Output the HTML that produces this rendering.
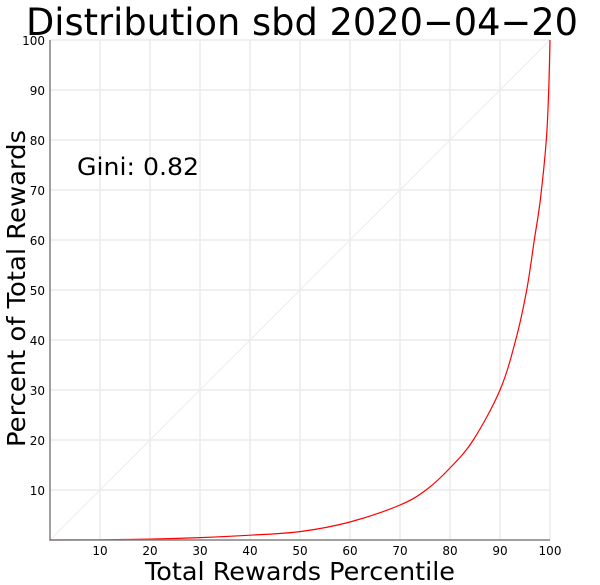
<!DOCTYPE html>
<html><head><meta charset="utf-8"><style>
html,body{margin:0;padding:0;background:#fff;}
svg{display:block;}
text{font-family:"DejaVu Sans","Liberation Sans",sans-serif;fill:#000;}
</style></head><body>
<svg width="600" height="585" viewBox="0 0 600 585" xmlns="http://www.w3.org/2000/svg">
<rect width="600" height="585" fill="#fff"/>
<g stroke="#ebebeb" stroke-width="1.5">
<line x1="100" y1="40" x2="100" y2="540"/><line x1="150" y1="40" x2="150" y2="540"/><line x1="200" y1="40" x2="200" y2="540"/><line x1="250" y1="40" x2="250" y2="540"/><line x1="300" y1="40" x2="300" y2="540"/><line x1="350" y1="40" x2="350" y2="540"/><line x1="400" y1="40" x2="400" y2="540"/><line x1="450" y1="40" x2="450" y2="540"/><line x1="500" y1="40" x2="500" y2="540"/><line x1="550" y1="40" x2="550" y2="540"/>
<line x1="50" y1="40" x2="550" y2="40"/><line x1="50" y1="90" x2="550" y2="90"/><line x1="50" y1="140" x2="550" y2="140"/><line x1="50" y1="190" x2="550" y2="190"/><line x1="50" y1="240" x2="550" y2="240"/><line x1="50" y1="290" x2="550" y2="290"/><line x1="50" y1="340" x2="550" y2="340"/><line x1="50" y1="390" x2="550" y2="390"/><line x1="50" y1="440" x2="550" y2="440"/><line x1="50" y1="490" x2="550" y2="490"/>
</g>
<line x1="50" y1="540" x2="550" y2="40" stroke="#ececec" stroke-width="1"/>
<path fill="none" stroke="#ff0000" stroke-width="1.2" d="M50,540 C58.3,539.97 83.3,539.95 100,539.8 C116.7,539.65 133.3,539.47 150,539.1 C166.7,538.73 183.3,538.25 200,537.6 C216.7,536.95 233.3,536.2 250,535.2 C266.7,534.2 283.3,533.8 300,531.6 C316.7,529.4 333.3,526.43 350,522 C366.7,517.57 387.33,510.33 400,505 C412.67,499.67 417.67,496.17 426,490 C434.33,483.83 442.12,476.33 450,468 C457.88,459.67 464.97,453 473.3,440 C481.63,427 492.93,406.67 500,390 C507.07,373.33 511.25,356.67 515.7,340 C520.15,323.33 523.6,306.67 526.7,290 C529.8,273.33 532.03,255 534.3,240 C536.57,225 538.3,216.67 540.3,200 C542.3,183.33 544.9,158.33 546.3,140 C547.7,121.67 548.08,106.67 548.7,90 C549.32,73.33 549.78,48.33 550,40"/>
<g stroke="#808080" stroke-width="1.5">
<line x1="50" y1="40" x2="50" y2="540.7"/>
<line x1="49.3" y1="540" x2="550" y2="540"/>
</g>
<g font-size="12" text-anchor="end">
<text x="45" y="45">100</text><text x="45" y="95">90</text><text x="45" y="145">80</text><text x="45" y="195">70</text><text x="45" y="245">60</text><text x="45" y="295">50</text><text x="45" y="345">40</text><text x="45" y="395">30</text><text x="45" y="445">20</text><text x="45" y="495">10</text>
</g>
<g font-size="12" text-anchor="middle">
<text x="100" y="555">10</text><text x="150" y="555">20</text><text x="200" y="555">30</text><text x="250" y="555">40</text><text x="300" y="555">50</text><text x="350" y="555">60</text><text x="400" y="555">70</text><text x="450" y="555">80</text><text x="500" y="555">90</text><text x="550" y="555">100</text>
</g>
<text x="26" y="35" font-size="37" textLength="552" lengthAdjust="spacingAndGlyphs">Distribution sbd 2020−04−20</text>
<text x="145" y="580" font-size="25" textLength="310" lengthAdjust="spacingAndGlyphs">Total Rewards Percentile</text>
<text transform="translate(25,447) rotate(-90)" x="0" y="0" font-size="25" textLength="317" lengthAdjust="spacingAndGlyphs">Percent of Total Rewards</text>
<text x="77" y="175" font-size="24" textLength="122" lengthAdjust="spacingAndGlyphs">Gini: 0.82</text>
</svg>
</body></html>
